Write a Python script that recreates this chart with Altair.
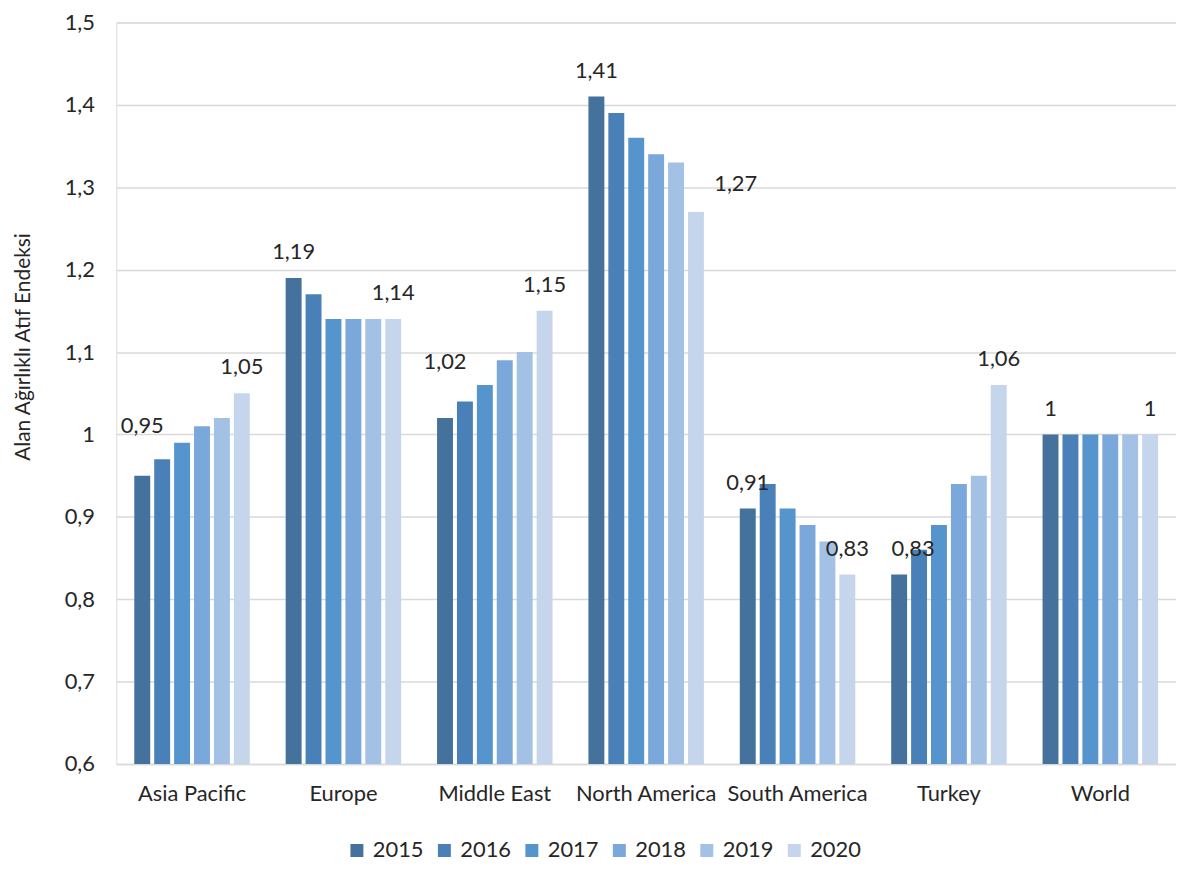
import altair as alt
import pandas as pd

categories = ["Asia Pacific", "Europe", "Middle East", "North America", "South America", "Turkey", "World"]
years = ["2015", "2016", "2017", "2018", "2019", "2020"]
asia_pacific = [0.95, 0.97, 0.99, 1.01, 1.02, 1.05]
europe = [1.19, 1.17, 1.14, 1.14, 1.14, 1.14]
middle_east = [1.02, 1.04, 1.06, 1.09, 1.10, 1.15]
north_america = [1.41, 1.39, 1.36, 1.34, 1.33, 1.27]
south_america = [0.91, 0.94, 0.91, 0.89, 0.87, 0.83]
turkey = [0.83, 0.86, 0.89, 0.94, 0.95, 1.06]
world = [1.00, 1.00, 1.00, 1.00, 1.00, 1.00]
colors = ["#44729D", "#4A80B8", "#5694CD", "#7BA8DA", "#A3C1E4", "#C5D5EB"]

series = [asia_pacific, europe, middle_east, north_america, south_america, turkey, world]
rows = []
for cat, vals in zip(categories, series):
    for i, (yr, v) in enumerate(zip(years, vals)):
        rows.append({
            "category": cat,
            "year": yr,
            "value": v,
            "label": f"{v:g}".replace(".", ","),
            "show": i == 0 or i == len(years) - 1,
        })
df = pd.DataFrame(rows)

FONT = "Lato"
TXT = "#262626"
FS = 22

x = alt.X("category:N", sort=categories, title=None,
          scale=alt.Scale(paddingInner=0.237, paddingOuter=0.1185),
          axis=alt.Axis(labelAngle=0, ticks=False, domainColor="#D9D9D9", domainWidth=1.5,
                        labelPadding=20, labelFontSize=FS, labelFont=FONT, labelColor=TXT))
xo = alt.XOffset("year:N", sort=years, scale=alt.Scale(paddingInner=0.2, paddingOuter=0))
y = alt.Y("value:Q", title="Alan Ağırlıklı Atıf Endeksi",
          scale=alt.Scale(domain=[0.6, 1.5], nice=False, zero=False),
          axis=alt.Axis(values=[0.6, 0.7, 0.8, 0.9, 1.0, 1.1, 1.2, 1.3, 1.4, 1.5],
                        labelExpr="replace(format(datum.value, '.1~f'), '.', ',')",
                        domain=False, ticks=False, gridColor="#D9D9D9", gridWidth=1.5,
                        labelPadding=22, labelFontSize=FS, labelFont=FONT, labelColor=TXT,
                        titleFontSize=21, titleFont=FONT, titleColor=TXT, titleFontWeight="normal",
                        titleX=-93, titleY=326, titleBaseline="middle", titleAngle=270))

bars = alt.Chart(df).mark_bar(clip=True).encode(
    x=x, xOffset=xo, y=y,
    color=alt.Color("year:N", sort=years, title=None,
                    scale=alt.Scale(domain=years, range=colors),
                    legend=alt.Legend(orient="none", direction="horizontal", legendX=231, legendY=822,
                                      symbolType="square", symbolSize=170, symbolStrokeWidth=0,
                                      labelFontSize=FS, labelFont=FONT, labelColor=TXT,
                                      columnPadding=9, labelOffset=5)),
)

base_text = alt.Chart(df).transform_filter("datum.show")

def txt(filter_expr, dx=0, dy=-26):
    return base_text.transform_filter(filter_expr).mark_text(
        fontSize=FS, font=FONT, color=TXT, baseline="middle", dx=dx, dy=dy
    ).encode(x=alt.X("category:N", sort=categories), xOffset=alt.XOffset("year:N", sort=years),
             y=alt.Y("value:Q"), text="label:N")

special = "(datum.category=='Asia Pacific' && datum.year=='2015') || (datum.category=='Middle East' && datum.year=='2015') || (datum.category=='North America' && datum.year=='2020') || (datum.category=='Turkey' && datum.year=='2015')"
t_main = txt("!(" + special + ")")
t_ap = txt("datum.category=='Asia Pacific' && datum.year=='2015'", dy=-50)
t_me = txt("datum.category=='Middle East' && datum.year=='2015'", dy=-56)
t_na = txt("datum.category=='North America' && datum.year=='2020'", dx=40, dy=-28)
t_tr = txt("datum.category=='Turkey' && datum.year=='2015'", dx=14)

chart = alt.layer(bars, t_main, t_ap, t_me, t_na, t_tr).properties(
    width=1066, height=746,
    autosize=alt.AutoSizeParams(type="none"),
    padding={"left": 109, "top": 12, "right": 0, "bottom": 95},
).configure_view(stroke=None).configure(background="white")

chart.save("out.html", embed_options={"renderer": "svg", "actions": False})
